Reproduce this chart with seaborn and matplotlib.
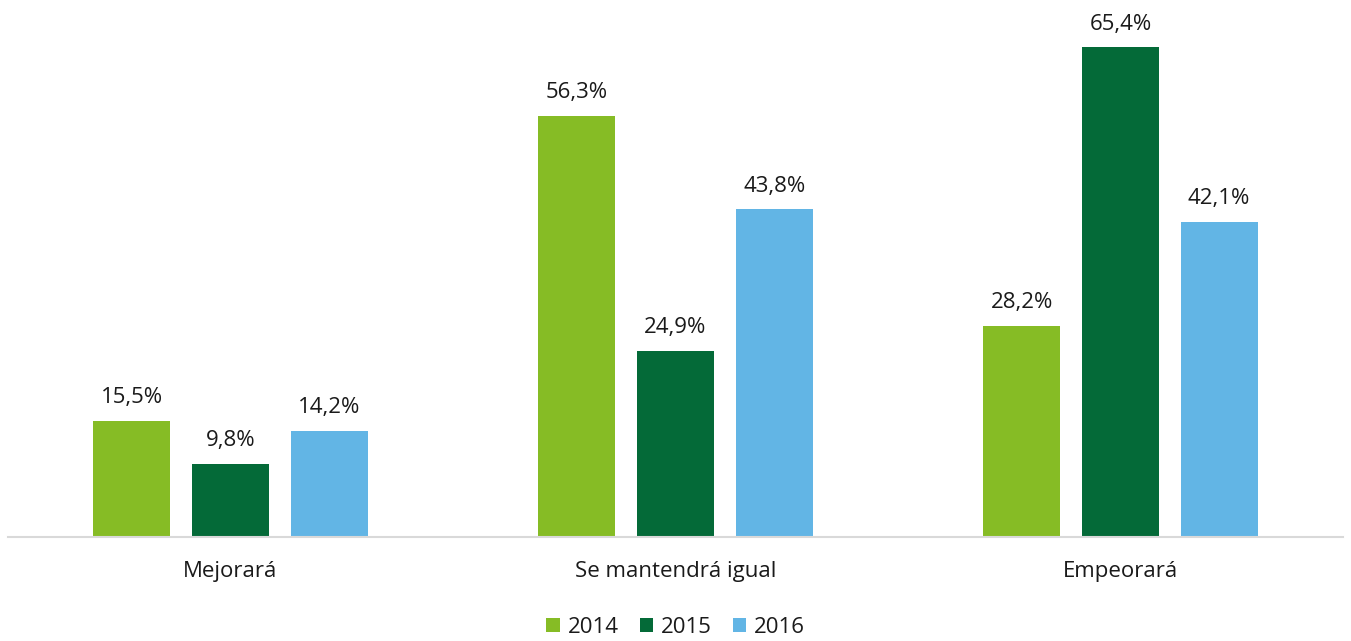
import matplotlib
matplotlib.use("Agg")
import matplotlib.pyplot as plt
import seaborn as sns
import pandas as pd

categories = ["Mejorará", "Se mantendrá igual", "Empeorará"]
years = ["2014", "2015", "2016"]
v2014 = [15.5, 56.3, 28.2]
v2015 = [9.8, 24.9, 65.4]
v2016 = [14.2, 43.8, 42.1]
colors = ["#86BC25", "#046A38", "#62B5E5"]

rows = []
for y, vals in zip(years, [v2014, v2015, v2016]):
    for c, v in zip(categories, vals):
        rows.append({"cat": c, "year": y, "val": v})
df = pd.DataFrame(rows)

sns.set_theme(style="white")
plt.rcParams["font.family"] = ["Open Sans", "DejaVu Sans"]

fig = plt.figure(figsize=(13.51, 6.41), dpi=100)
ax = fig.add_axes([8/1351, 104/641, 1335/1351, 524/641])
sns.barplot(data=df, x="cat", y="val", hue="year", order=categories,
            hue_order=years, palette=colors, width=0.665, gap=0.22,
            saturation=1, linewidth=0, ax=ax, legend=True)

for cont in ax.containers:
    labels = [f"{v:.1f}%".replace(".", ",") for v in cont.datavalues]
    ax.bar_label(cont, labels=labels, padding=9, fontsize=16, color="#1a1a1a")

ax.set_xlim(-0.5, 2.5)
ax.set_ylim(0, 70)
ax.set_xlabel("")
ax.set_ylabel("")
ax.set_yticks([])
for s in ["top", "right", "left"]:
    ax.spines[s].set_visible(False)
ax.spines["bottom"].set_color("#d9d9d9")
ax.spines["bottom"].set_linewidth(1.5)
ax.tick_params(axis="x", length=0, pad=17, labelsize=16, labelcolor="#1a1a1a")

ax.legend(loc="upper center", bbox_to_anchor=(0.5, -0.115), ncol=3, frameon=False,
          fontsize=16, handlelength=0.6, handleheight=0.6, handletextpad=0.35,
          columnspacing=0.95)
for t in ax.get_legend().get_texts():
    t.set_color("#1a1a1a")

fig.savefig("out.png", dpi=100)
